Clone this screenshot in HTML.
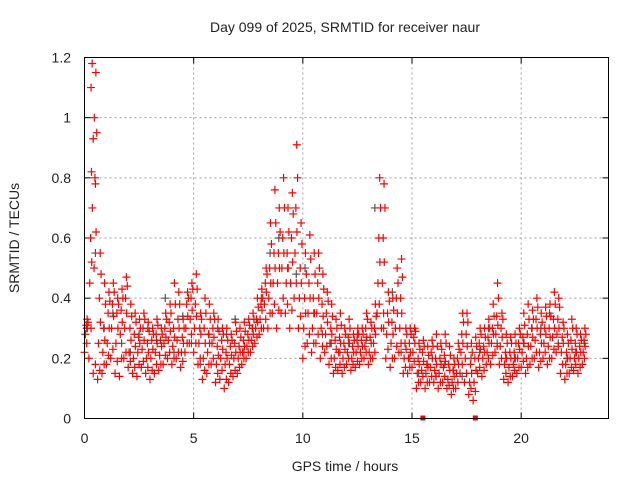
<!DOCTYPE html>
<html><head><meta charset="utf-8"><style>
body{margin:0;background:#fff;width:640px;height:480px;overflow:hidden}
svg{display:block}
text{font-family:"Liberation Sans",sans-serif;font-size:14px;fill:#222}
</style></head><body>
<svg id="chart" width="640" height="480" viewBox="0 0 640 480">
<text x="345" y="32" text-anchor="middle">Day 099 of 2025, SRMTID for receiver naur</text>
<text transform="translate(19,238) rotate(-90)" text-anchor="middle">SRMTID / TECUs</text>
<text x="345" y="471" text-anchor="middle">GPS time / hours</text>
<g id="grid"></g>
<g id="ticks"></g>
<g id="marks"></g>
<rect x="84.5" y="57.5" width="524" height="361" fill="none" stroke="#000" stroke-width="1"/>
</svg>
<script>
const xTicks=[0,5,10,15,20];
const yTicks=[0,0.2,0.4,0.6,0.8,1,1.2];
const yTickLabels=["0","0.2","0.4","0.6","0.8","1","1.2"];
const step=0.2;
const redLow=[.22,.2,.15,.13,.15,.18,.2,.15,.14,.2,.17,.15,.14,.17,.15,.13,.15,.16,.18,.2,.18,.2,.17,.22,.25,.22,.18,.13,.15,.18,.12,.13,.1,.12,.14,.15,.18,.2,.22,.25,.28,.3,.3,.35,.3,.35,.35,.3,.4,.3,.2,.25,.22,.25,.2,.22,.18,.15,.16,.15,.18,.16,.17,.18,.2,.18,.2,.35,.3,.2,.17,.2,.22,.15,.15,.17,.1,.12,.1,.12,.12,.1,.12,.1,.08,.1,.15,.12,.08,.06,.15,.14,.18,.18,.22,.18,.13,.12,.14,.15,.17,.15,.18,.2,.17,.2,.18,.2,.22,.15,.13,.15,.16,.15,.18];
const redMid1=[.28,.45,.5,.25,.22,.25,.3,.25,.28,.3,.22,.2,.22,.23,.2,.2,.22,.21,.25,.26,.24,.26,.22,.3,.33,.3,.25,.2,.22,.25,.18,.2,.18,.18,.2,.2,.22,.24,.26,.3,.33,.38,.4,.45,.45,.5,.45,.45,.55,.4,.3,.35,.3,.35,.3,.28,.25,.2,.22,.2,.22,.2,.22,.22,.24,.22,.25,.45,.45,.28,.25,.3,.3,.2,.2,.22,.15,.16,.15,.17,.16,.15,.17,.13,.12,.15,.22,.2,.12,.12,.2,.2,.22,.25,.28,.24,.18,.17,.18,.2,.22,.2,.24,.26,.22,.25,.24,.27,.28,.22,.18,.2,.2,.2,.22];
const redMid2=[.31,.6,.8,.4,.3,.35,.38,.35,.36,.4,.3,.28,.27,.3,.25,.26,.28,.26,.3,.32,.3,.33,.27,.38,.4,.38,.3,.3,.28,.3,.24,.26,.22,.24,.25,.24,.26,.28,.3,.33,.38,.45,.5,.55,.55,.6,.55,.6,.7,.5,.4,.45,.4,.45,.38,.35,.3,.26,.27,.25,.27,.24,.26,.26,.3,.27,.3,.6,.6,.35,.32,.4,.4,.25,.25,.27,.2,.22,.18,.22,.2,.2,.21,.18,.16,.2,.28,.28,.18,.2,.25,.24,.27,.3,.34,.3,.22,.22,.22,.25,.27,.28,.3,.33,.28,.3,.3,.33,.33,.27,.22,.26,.25,.24,.26];
const redHigh=[.33,.82,1.15,.55,.45,.42,.45,.4,.43,.47,.38,.35,.33,.35,.32,.3,.33,.3,.35,.38,.45,.42,.33,.42,.45,.48,.35,.4,.38,.35,.33,.3,.3,.28,.32,.3,.32,.33,.35,.4,.43,.5,.65,.76,.7,.8,.7,.75,.91,.65,.55,.61,.55,.55,.48,.42,.38,.33,.35,.3,.33,.28,.3,.3,.35,.32,.38,.8,.78,.42,.4,.5,.53,.3,.3,.3,.25,.26,.24,.26,.28,.25,.28,.24,.2,.25,.35,.35,.25,.27,.3,.3,.33,.38,.45,.35,.28,.27,.28,.3,.35,.38,.36,.4,.35,.37,.38,.42,.4,.32,.28,.33,.3,.28,.3];
const redExtra1=[.25,.3,.18,.16,.18,.21,.23,.19,.2,.22,.19,.17,.18,.19,.17,.16,.18,.18,.21,.22,.2,.22,.19,.25,.28,.25,.2,.16,.18,.2,.15,.16,.13,.15,.16,.17,.2,.22,.24,.27,.3,.33,.35,.38,.36,.4,.38,.36,.45,.34,.24,.28,.25,.28,.24,.24,.2,.17,.18,.17,.2,.18,.19,.2,.22,.2,.22,.38,.35,.23,.2,.24,.25,.17,.17,.19,.12,.14,.12,.14,.14,.12,.14,.11,.1,.12,.18,.15,.1,.09,.17,.16,.2,.21,.24,.2,.15,.14,.16,.17,.19,.17,.2,.22,.19,.22,.2,.23,.24,.18,.15,.17,.18,.17,.2];
const redExtra2=[.3,.52,.62,.32,.26,.3,.34,.3,.32,.35,.26,.24,.25,.26,.22,.23,.25,.24,.27,.29,.27,.3,.25,.34,.36,.34,.28,.25,.25,.27,.21,.23,.2,.21,.22,.22,.24,.26,.28,.32,.36,.42,.45,.5,.5,.55,.5,.52,.62,.45,.35,.4,.35,.4,.34,.32,.28,.23,.25,.23,.25,.22,.24,.24,.27,.25,.28,.52,.52,.32,.28,.35,.35,.23,.22,.25,.18,.19,.17,.2,.18,.18,.19,.16,.14,.18,.25,.24,.15,.16,.23,.22,.25,.28,.31,.27,.2,.2,.2,.23,.25,.24,.27,.3,.25,.28,.27,.3,.3,.25,.2,.23,.22,.22,.24];
const redExtra3=[.32,.7,.95,.48,.38,.39,.42,.38,.4,.44,.34,.32,.3,.33,.29,.28,.31,.28,.33,.35,.38,.38,.3,.4,.43,.43,.33,.35,.33,.33,.29,.28,.26,.26,.29,.27,.29,.31,.33,.37,.4,.48,.58,.65,.62,.7,.62,.68,.8,.58,.48,.53,.48,.5,.43,.39,.34,.3,.31,.28,.3,.26,.28,.28,.33,.3,.34,.7,.7,.39,.36,.45,.47,.28,.28,.29,.23,.24,.21,.24,.24,.23,.25,.21,.18,.23,.32,.32,.22,.24,.28,.27,.3,.34,.4,.33,.25,.25,.25,.28,.31,.33,.33,.37,.32,.34,.34,.38,.37,.3,.25,.3,.28,.26,.28];
const spikeTimes=[0.3,0.35,0.4,0.45,0.5];
const spikeVals=[1.1,1.18,0.93,1.0,0.78];
const greyVals=[.3,.55,.3,.35,.25,.22,.28,.3,.26,.4,.22,.34,.25,.18,.28,.3,.28,.33,.22,.3,.4,.55,.6,.5,.48,.5,.35,.28,.25,.22,.25,.28,.26,.7,.3,.42,.22,.2,.15,.18,.14,.18,.16,.14,.2,.22,.3,.25,.2,.2,.25,.3,.3,.35,.25,.2,.22,.25];
const greyStep=0.4;
const zeroTimes=[15.5,17.9];
const zeroVals=[0,0];

const X0=84.5,X1=608.5,Y0=418.5,Y1=57.5;
const xs=h=>X0+h/24*(X1-X0);
const ys=v=>Y0-v/1.2*(Y0-Y1);
const NS="http://www.w3.org/2000/svg";
function mk(tag,attrs,parent){const e=document.createElementNS(NS,tag);for(const k in attrs)e.setAttribute(k,attrs[k]);parent.appendChild(e);return e;}
const grid=document.getElementById('grid'),ticks=document.getElementById('ticks'),marks=document.getElementById('marks');
xTicks.forEach(t=>{const x=xs(t);
 if(t>0){const g=mk('line',{x1:x,x2:x,y1:Y1,y2:Y0,stroke:'#a0a0a0','stroke-dasharray':'2,3'},grid);
 
 }
 mk('line',{x1:x,x2:x,y1:Y0,y2:Y0-6,stroke:'#000'},ticks);
 mk('line',{x1:x,x2:x,y1:Y1,y2:Y1+6,stroke:'#000'},ticks);
 const l=mk('text',{x:x,y:443,'text-anchor':'middle'},ticks);l.textContent=t;
 
 
});
yTicks.forEach((t,i)=>{const y=ys(t);
 if(t>0&&t<1.2){const g=mk('line',{x1:X0,x2:X1,y1:y,y2:y,stroke:'#a0a0a0','stroke-dasharray':'2,3'},grid);
 
 }
 mk('line',{x1:X0,x2:X0+6,y1:y,y2:y,stroke:'#000'},ticks);
 mk('line',{x1:X1,x2:X1-6,y1:y,y2:y,stroke:'#000'},ticks);
 const l=mk('text',{x:71,y:y+5,'text-anchor':'end'},ticks);l.textContent=yTickLabels[i];
 
 
});
function plus(h,v,color,name){const x=xs(h),y=ys(v);
 const p=mk('path',{d:`M${x-4},${y}H${x+4}M${x},${y-4}V${y+4}`,stroke:color,'stroke-width':1.2,fill:'none'},marks);
 
 
}
greyVals.forEach((v,i)=>plus(i*greyStep+0.1,v,'#555','grey-point'));
[redLow,redMid1,redMid2,redHigh].forEach((arr,k)=>arr.forEach((v,i)=>{plus(i*step+k*0.04,v,'#f00','red-point');}));
[redExtra1,redExtra2,redExtra3].forEach((arr,k)=>arr.forEach((v,i)=>{plus(i*step+0.1+k*0.03,v,'#f00','red-point');}));
spikeTimes.forEach((t,i)=>plus(t,spikeVals[i],'#f00','red-spike-point'));
zeroTimes.forEach((t,i)=>{const r=mk('rect',{x:xs(t)-2.5,y:ys(zeroVals[i])-3,width:5,height:5,fill:'#f00'},marks);
 
 });
</script>
</body></html>
